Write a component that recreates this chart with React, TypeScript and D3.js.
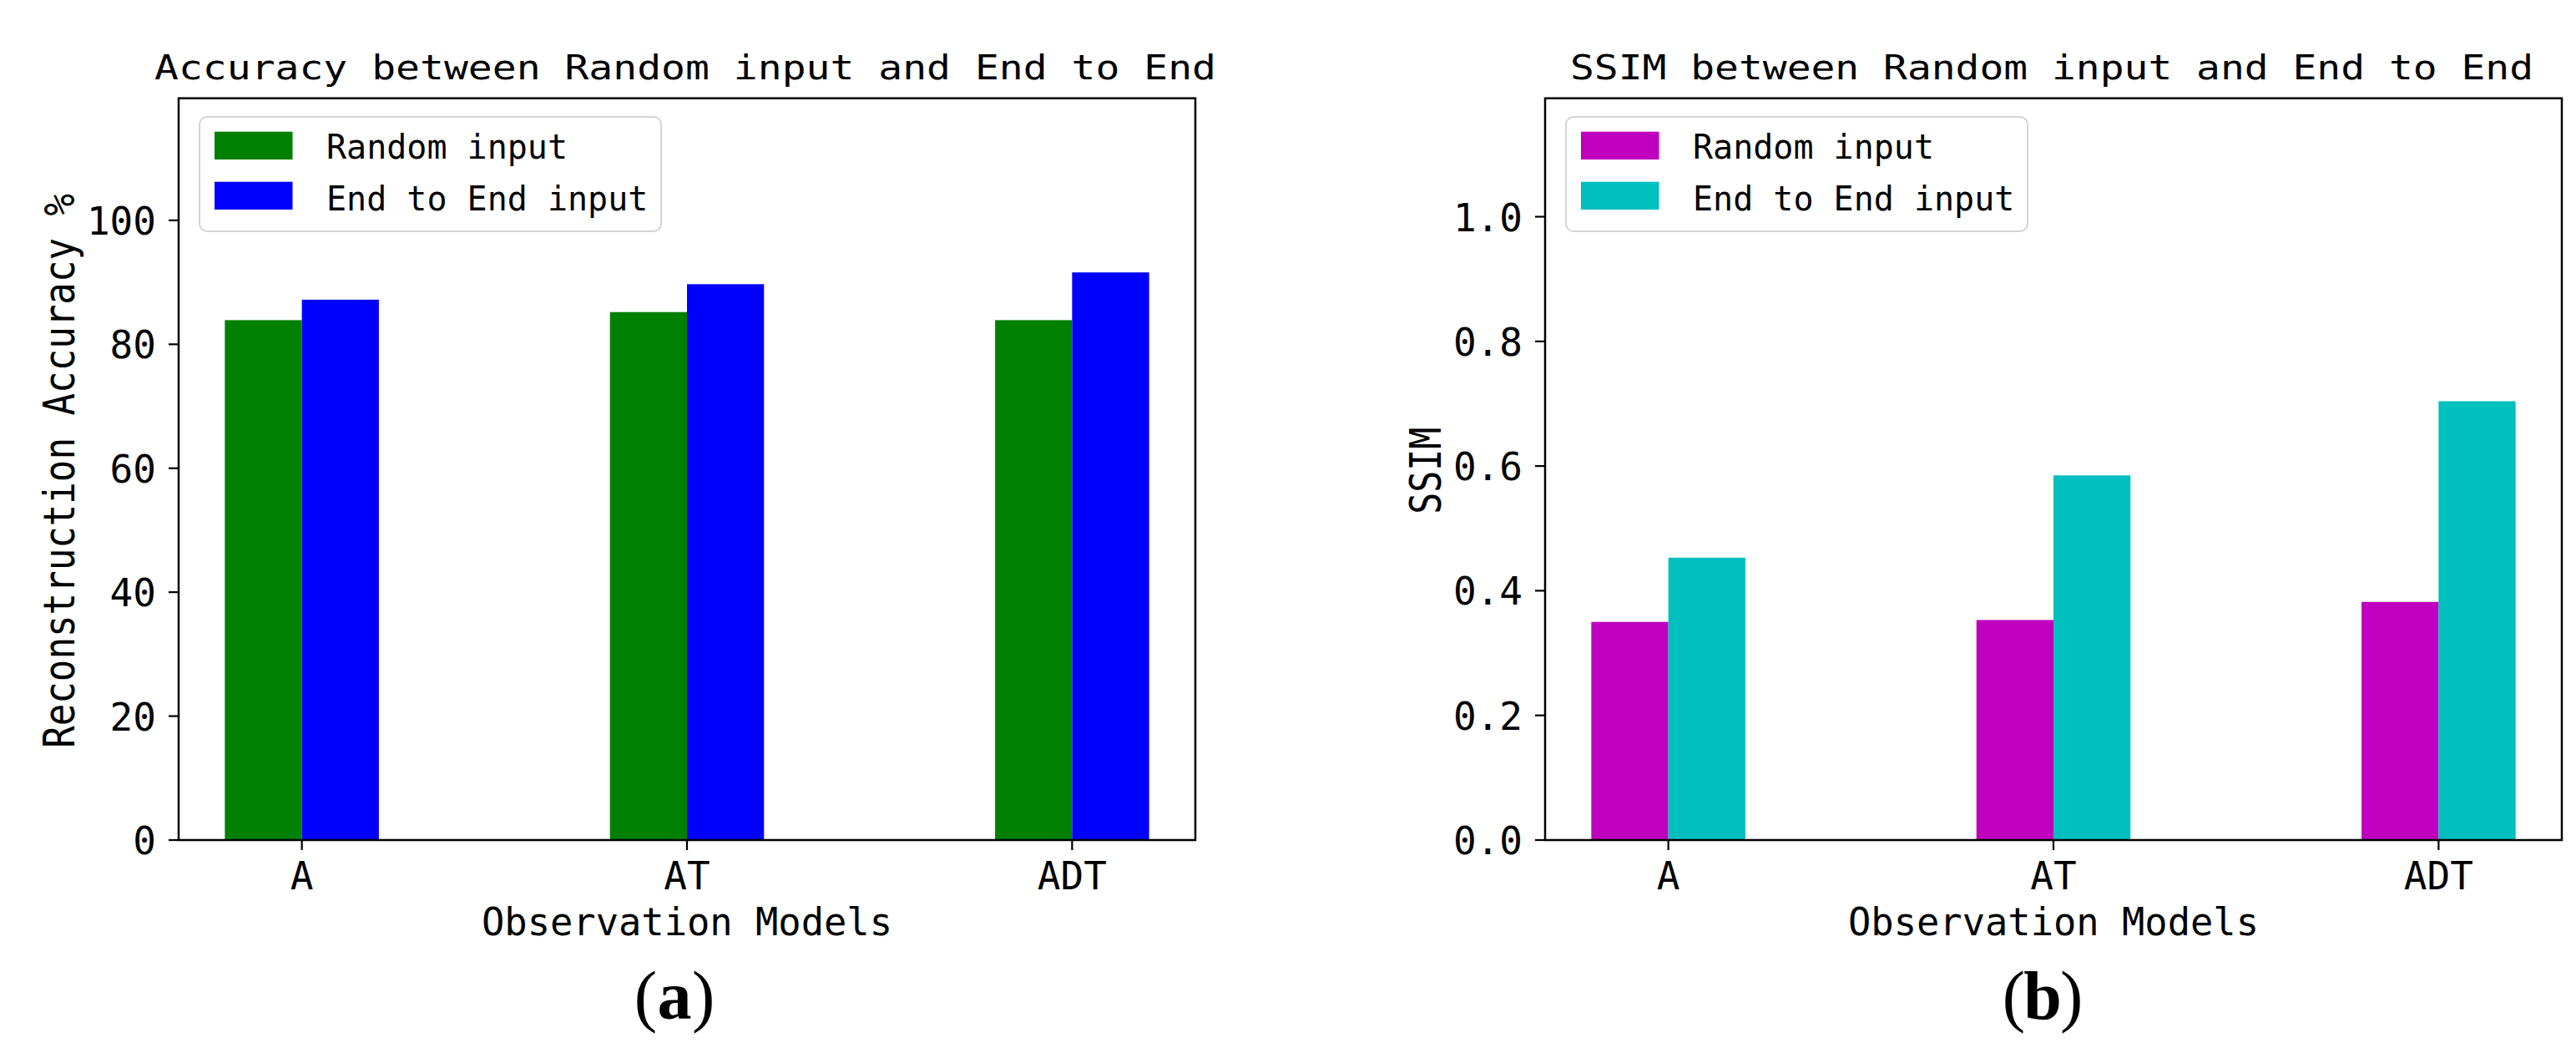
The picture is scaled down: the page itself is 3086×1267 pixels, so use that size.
import React from 'react';
import * as d3 from 'd3';

const categories = ['A', 'AT', 'ADT'];
const seriesNames = ['Random input', 'End to End input'];
const accRandom = [83.9, 85.2, 83.9];
const accEndToEnd = [87.2, 89.7, 91.6];
const ssimRandom = [0.35, 0.353, 0.382];
const ssimEndToEnd = [0.453, 0.585, 0.704];
const accTicks = [0, 20, 40, 60, 80, 100];
const accTickLabels = ['0', '20', '40', '60', '80', '100'];
const ssimTicks = [0, 0.2, 0.4, 0.6, 0.8, 1.0];
const ssimTickLabels = ['0.0', '0.2', '0.4', '0.6', '0.8', '1.0'];
const accColors = ['#008000', '#0000ff'];
const ssimColors = ['#bf00bf', '#00bfbf'];

const MONO = "'DejaVu Sans Mono', 'Liberation Mono', monospace";
const SERIF = "'Liberation Serif', 'DejaVu Serif', serif";

type PanelProps = {
  x0: number;
  x1: number;
  yTop: number;
  yBottom: number;
  yMax: number;
  s0: number[];
  s1: number[];
  colors: string[];
  ticks: number[];
  tickLabels: string[];
  title: string;
  titleLen: number;
  yLabel: string;
  yLabelLen: number;
  panelLabel: string;
  panelX: number;
};

function Panel(p: PanelProps) {
  const barW = 0.2;
  const x = d3.scaleLinear().domain([-0.32, 2.32]).range([p.x0, p.x1]);
  const y = d3.scaleLinear().domain([0, p.yMax]).range([p.yBottom, p.yTop]);
  const cx = (p.x0 + p.x1) / 2;
  const cy = (p.yTop + p.yBottom) / 2 + 2;
  const series = [p.s0, p.s1];
  return (
    <g>
      {series.map((vals, si) =>
        vals.map((v, i) => {
          const left = si === 0 ? x(i - barW) : x(i);
          const right = si === 0 ? x(i) : x(i + barW);
          return (
            <rect
              key={`b${si}-${i}`}
              x={left}
              y={y(v)}
              width={right - left}
              height={y(0) - y(v)}
              fill={p.colors[si]}
            />
          );
        })
      )}
      <rect
        x={p.x0}
        y={p.yTop}
        width={p.x1 - p.x0}
        height={p.yBottom - p.yTop}
        fill="none"
        stroke="#000"
        strokeWidth={2.5}
      />
      {p.ticks.map((t, i) => (
        <g key={`yt${i}`}>
          <line x1={p.x0 - 12} x2={p.x0} y1={y(t)} y2={y(t)} stroke="#000" strokeWidth={2.2} />
          <text
            x={p.x0 - 27}
            y={y(t) + 17}
            textAnchor="end"
            fontFamily={MONO}
            fontSize={46}
            fill="#000"
          >
            {p.tickLabels[i]}
          </text>
        </g>
      ))}
      {categories.map((c, i) => (
        <g key={`xt${i}`}>
          <line x1={x(i)} x2={x(i)} y1={p.yBottom} y2={p.yBottom + 12} stroke="#000" strokeWidth={2.2} />
          <text x={x(i)} y={1065} textAnchor="middle" fontFamily={MONO} fontSize={46} fill="#000">
            {c}
          </text>
        </g>
      ))}
      <text
        x={cx}
        y={1120}
        textAnchor="middle"
        fontFamily={MONO}
        fontSize={46}
        textLength={492}
        lengthAdjust="spacingAndGlyphs"
        fill="#000"
      >
        Observation Models
      </text>
      <text
        transform={`translate(${p.x0 - 125},${cy}) rotate(-90)`}
        textAnchor="middle"
        fontFamily={MONO}
        fontSize={52}
        textLength={p.yLabelLen}
        lengthAdjust="spacingAndGlyphs"
        fill="#000"
      >
        {p.yLabel}
      </text>
      <text
        x={cx - 2}
        y={95}
        textAnchor="middle"
        fontFamily={MONO}
        fontSize={41}
        textLength={p.titleLen}
        lengthAdjust="spacingAndGlyphs"
        fill="#000"
      >
        {p.title}
      </text>
      <g>
        <rect
          x={p.x0 + 25}
          y={140}
          width={553}
          height={137}
          rx={9}
          fill="#fff"
          fillOpacity={0.8}
          stroke="#d4d4d4"
          strokeWidth={2}
        />
        {seriesNames.map((n, i) => (
          <g key={`lg${i}`}>
            <rect x={p.x0 + 43} y={157.7 + i * 60} width={93.5} height={33.3} fill={p.colors[i]} />
            <text x={p.x0 + 177} y={190 + i * 61.5} fontFamily={MONO} fontSize={40} fill="#000">
              {n}
            </text>
          </g>
        ))}
      </g>
      <text x={p.panelX - 21} y={1220} textAnchor="end" fontFamily={SERIF} fontSize={82} fill="#000">
        (
      </text>
      <text
        x={p.panelX}
        y={1220}
        textAnchor="middle"
        fontFamily={SERIF}
        fontSize={82}
        fontWeight="bold"
        fill="#000"
      >
        {p.panelLabel}
      </text>
      <text x={p.panelX + 21} y={1220} textAnchor="start" fontFamily={SERIF} fontSize={82} fill="#000">
        )
      </text>
    </g>
  );
}

export default function App() {
  return (
    <div style={{ position: 'absolute', left: 0, top: 0 }}>
      <svg width={3086} height={1267} viewBox="0 0 3086 1267" style={{ display: 'block', background: '#fff' }}>
        <rect x={0} y={0} width={3086} height={1267} fill="#fff" />
        <Panel
          x0={214}
          x1={1432}
          yTop={117.7}
          yBottom={1006}
          yMax={119.7}
          s0={accRandom}
          s1={accEndToEnd}
          colors={accColors}
          ticks={accTicks}
          tickLabels={accTickLabels}
          title="Accuracy between Random input and End to End"
          titleLen={1272}
          yLabel="Reconstruction Accuracy %"
          yLabelLen={664}
          panelLabel="a"
          panelX={808}
        />
        <Panel
          x0={1851}
          x1={3069}
          yTop={117.7}
          yBottom={1006}
          yMax={1.19}
          s0={ssimRandom}
          s1={ssimEndToEnd}
          colors={ssimColors}
          ticks={ssimTicks}
          tickLabels={ssimTickLabels}
          title="SSIM between Random input and End to End"
          titleLen={1154}
          yLabel="SSIM"
          yLabelLen={104}
          panelLabel="b"
          panelX={2447}
        />
      </svg>
    </div>
  );
}
